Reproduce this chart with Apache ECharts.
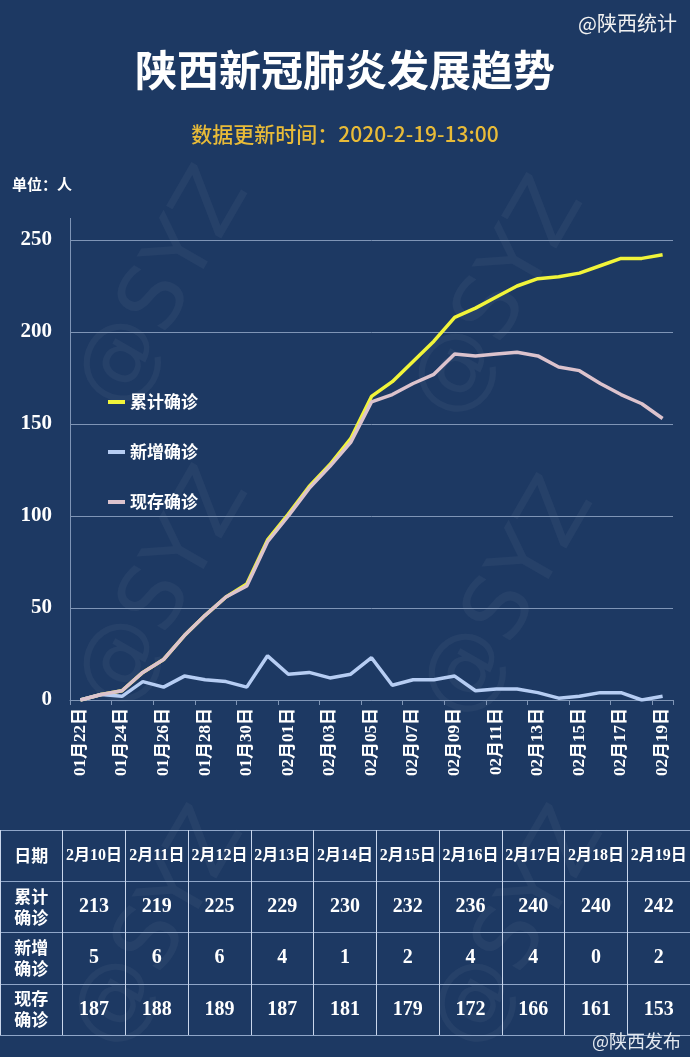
<!DOCTYPE html>
<html>
<head>
<meta charset="utf-8">
<script src="https://cdn.jsdelivr.net/npm/echarts@6/dist/echarts.min.js"></script>
<style>
html,body{margin:0;padding:0;background:#1d3963;}
#c{width:690px;height:1057px;}
</style>
</head>
<body>
<div id="c"></div>
<script>
// ---- data ----
const dates = ['01月22日','01月23日','01月24日','01月25日','01月26日','01月27日','01月28日','01月29日','01月30日','01月31日',
  '02月01日','02月02日','02月03日','02月04日','02月05日','02月06日','02月07日','02月08日','02月09日','02月10日',
  '02月11日','02月12日','02月13日','02月14日','02月15日','02月16日','02月17日','02月18日','02月19日'];
const cumulative = [0,3,5,15,22,35,46,56,63,87,101,116,128,142,165,173,184,195,208,213,219,225,229,230,232,236,240,240,242];
const newCases   = [0,3,2,10,7,13,11,10,7,24,14,15,12,14,23,8,11,11,13,5,6,6,4,1,2,4,4,0,2];
const current    = [0,3,5,15,22,35,46,56,62,86,100,115,127,140,162,166,172,177,188,187,188,189,187,181,179,172,166,161,153];
const seriesNames = ['累计确诊','新增确诊','现存确诊'];
const yTicks = [0,50,100,150,200,250];

const tableDates = ['2月10日','2月11日','2月12日','2月13日','2月14日','2月15日','2月16日','2月17日','2月18日','2月19日'];
const tableCum = [213,219,225,229,230,232,236,240,240,242];
const tableNew = [5,6,6,4,1,2,4,4,0,2];
const tableCur = [187,188,189,187,181,179,172,166,161,153];
const rowHeaders = ['日期','累计\n确诊','新增\n确诊','现存\n确诊'];

// ---- styles ----
const SANS = "'Noto Sans CJK SC', 'Noto Sans', sans-serif";
const SERIF = "'Liberation Serif', 'DejaVu Serif', 'Noto Sans CJK SC', serif";
const GRIDC = '#7f95b6';

// ---- table cells ----
const tableCols = ['日期'].concat(tableDates);
const tableRows = rowHeaders;
const tableValues = [tableCum, tableNew, tableCur];
const cellData = [], cellText = [], cellKind = [];
for (let c = 0; c < tableCols.length; c++) {
  for (let r = 0; r < tableRows.length; r++) {
    let t, k;
    if (c === 0) { t = rowHeaders[r]; k = 'head'; }
    else if (r === 0) { t = tableDates[c - 1]; k = 'date'; }
    else { t = String(tableValues[r - 1][c - 1]); k = 'num'; }
    cellData.push([c, r]); cellText.push(t); cellKind.push(k);
  }
}

const chart = echarts.init(document.getElementById('c'), null, {renderer: 'canvas'});

const wm = [[165,290],[500,300],[165,590],[510,600],[160,930],[520,930]].map(p => ({
  type: 'text', x: p[0], y: p[1], rotation: Math.PI / 3, silent: true, z: 0,
  style: {text: '@SYZ', fill: 'rgba(255,255,255,0.045)', fontSize: 88, fontFamily: 'DejaVu Sans', fontWeight: 'normal', align: 'center', verticalAlign: 'middle'}
}));

const option = {
  backgroundColor: '#1d3963',
  animation: false,
  title: [
    {text: '陕西新冠肺炎发展趋势', left: 'center', top: 44, textStyle: {color: '#ffffff', fontSize: 42, fontWeight: 'bold', fontFamily: SANS}},
    {text: '数据更新时间：2020-2-19-13:00', left: 'center', top: 119, textStyle: {color: '#e8bb38', fontSize: 21, fontWeight: 500, fontFamily: SANS}},
    {text: '@陕西统计', right: 8, top: 8, textStyle: {color: '#f2f2f2', fontSize: 20, fontWeight: 'normal', fontFamily: SANS}},
    {text: '单位：人', left: 7, top: 172, textStyle: {color: '#ffffff', fontSize: 15, fontWeight: 'bold', fontFamily: SANS}},
    {text: '@陕西发布', right: 4, top: 1027, textStyle: {color: '#e3e8ef', fontSize: 18, fontWeight: 'normal', fontFamily: SANS}}
  ],
  legend: {
    data: seriesNames, orient: 'vertical', left: 103, top: 387,
    icon: 'rect', itemWidth: 17, itemHeight: 4, itemGap: 30,
    textStyle: {color: '#ffffff', fontSize: 17, fontWeight: 'bold', fontFamily: SANS, lineHeight: 20}
  },
  grid: [
    {left: 70, right: 17, top: 240, bottom: 357, containLabel: false},
    {left: 0, right: 0, top: 830, height: 205, containLabel: false}
  ],
  xAxis: [
    {type: 'category', gridIndex: 0, data: dates, boundaryGap: true,
      axisLine: {show: true, lineStyle: {color: GRIDC, width: 1}},
      axisTick: {show: true, interval: 1, length: 5, lineStyle: {color: GRIDC}},
      axisLabel: {interval: 1, rotate: 90, color: '#ffffff', fontSize: 17, fontWeight: 'bold', fontFamily: SERIF, margin: 8},
      splitLine: {show: false}},
    {type: 'category', gridIndex: 1, data: tableCols, boundaryGap: true,
      axisLine: {show: false}, axisTick: {show: false}, axisLabel: {show: false},
      splitLine: {show: true, interval: 0, lineStyle: {color: '#c9d6ec', width: 1}}}
  ],
  yAxis: [
    {type: 'value', gridIndex: 0, min: yTicks[0], max: yTicks[yTicks.length - 1], interval: yTicks[1] - yTicks[0],
      axisLine: {show: true, lineStyle: {color: GRIDC, width: 1}},
      axisTick: {show: false},
      axisLabel: {color: '#ffffff', fontSize: 21, fontWeight: 'bold', fontFamily: SERIF, margin: 18},
      splitLine: {show: true, lineStyle: {color: GRIDC, width: 1}}},
    {type: 'category', gridIndex: 1, data: tableRows, inverse: true, boundaryGap: true,
      axisLine: {show: false}, axisTick: {show: false}, axisLabel: {show: false},
      splitLine: {show: true, interval: 0, lineStyle: {color: '#8fa6c8', width: 1}}}
  ],
  graphic: wm.concat([
    {type: 'line', silent: true, z: 1, shape: {x1: 70.5, y1: 218, x2: 70.5, y2: 240}, style: {stroke: GRIDC, lineWidth: 1}}
  ]),
  series: [
    {name: seriesNames[0], type: 'line', xAxisIndex: 0, yAxisIndex: 0, data: cumulative, showSymbol: false, symbol: 'none',
      lineStyle: {color: '#f1f43a', width: 3.5}, itemStyle: {color: '#f1f43a'}, z: 3},
    {name: seriesNames[1], type: 'line', xAxisIndex: 0, yAxisIndex: 0, data: newCases, showSymbol: false, symbol: 'none',
      lineStyle: {color: '#b6cdf3', width: 3.5}, itemStyle: {color: '#b6cdf3'}, z: 3},
    {name: seriesNames[2], type: 'line', xAxisIndex: 0, yAxisIndex: 0, data: current, showSymbol: false, symbol: 'none',
      lineStyle: {color: '#dcc3cd', width: 3.5}, itemStyle: {color: '#dcc3cd'}, z: 4},
    {name: 'table', type: 'custom', xAxisIndex: 1, yAxisIndex: 1, data: cellData, silent: true,
      renderItem: function (params, api) {
        const pt = api.coord([api.value(0), api.value(1)]);
        const kind = cellKind[params.dataIndex];
        const st = {text: cellText[params.dataIndex], x: pt[0], y: pt[1], align: 'center', verticalAlign: 'middle', fill: '#ffffff', fontWeight: 'bold'};
        if (kind === 'head') { st.fontSize = 17; st.fontFamily = SANS; st.lineHeight = 21; }
        else if (kind === 'date') { st.fontSize = 16; st.fontFamily = SERIF; }
        else { st.fontSize = 20; st.fontFamily = SERIF; }
        return {type: 'text', style: st};
      }}
  ]
};
chart.setOption(option);
</script>
</body>
</html>
